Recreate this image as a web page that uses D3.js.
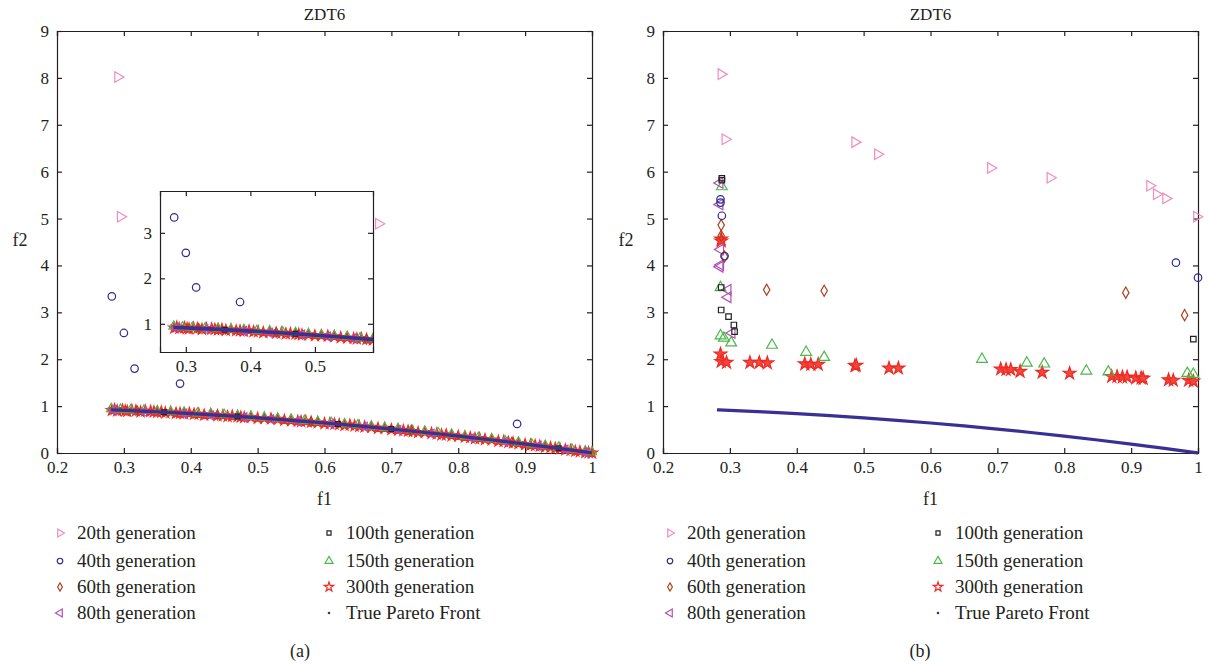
<!DOCTYPE html>
<html>
<head>
<meta charset="utf-8">
<script src="https://cdn.jsdelivr.net/npm/d3@7"></script>
<style>
  body { margin: 0; background: #fff; }
  svg { display: block; }
  text { font-family: "Liberation Serif", "DejaVu Serif", serif; fill: #231f20; }
</style>
</head>
<body>
<svg id="chart"></svg>
<script>
let width = 1208
let height = 665

// ---- data ----
let xTicks = [0.2, 0.3, 0.4, 0.5, 0.6, 0.7, 0.8, 0.9, 1]
let yTicks = [0, 1, 2, 3, 4, 5, 6, 7, 8, 9]
let insetXTicks = [0.3, 0.4, 0.5]
let insetYTicks = [1, 2, 3]

let legendNames = ['20th generation', '40th generation', '60th generation', '80th generation',
                   '100th generation', '150th generation', '300th generation', 'True Pareto Front']

// true pareto front (f1, f2)
let frontF1 = [0.2808, 0.30, 0.35, 0.40, 0.45, 0.50, 0.55, 0.60, 0.65, 0.70, 0.75, 0.80, 0.85, 0.90, 0.95, 1.0]
let frontF2 = [0.921, 0.91, 0.8775, 0.84, 0.7975, 0.75, 0.6975, 0.64, 0.5775, 0.51, 0.4375, 0.36, 0.2775, 0.19, 0.0975, 0]

// panel (a)
let a20 = [[0.291, 8.02], [0.295, 5.04], [0.681, 4.89]]
let a40 = [[0.282, 3.34], [0.300, 2.56], [0.316, 1.80], [0.384, 1.48], [0.888, 0.62]]
let a60 = [[0.32, 0.90], [0.44, 0.81], [0.58, 0.66], [0.73, 0.47], [0.88, 0.23]]
let a80 = [[0.285, 0.91], [0.33, 0.88], [0.39, 0.84], [0.43, 0.80], [0.48, 0.76], [0.52, 0.72], [0.56, 0.68],
           [0.61, 0.62], [0.66, 0.56], [0.71, 0.49], [0.76, 0.41], [0.82, 0.32], [0.87, 0.24], [0.92, 0.15],
           [0.96, 0.07], [0.99, 0.01]]
let a100 = [[0.36, 0.87], [0.47, 0.78], [0.62, 0.62], [0.70, 0.51], [0.95, 0.10]]
let a150 = [[0.281, 0.94], [0.295, 0.93], [0.31, 0.92], [0.33, 0.91], [0.35, 0.90], [0.37, 0.88], [0.39, 0.87],
            [0.41, 0.85], [0.43, 0.84], [0.45, 0.82], [0.47, 0.80], [0.49, 0.78], [0.51, 0.76], [0.53, 0.74],
            [0.55, 0.72], [0.57, 0.69], [0.59, 0.67], [0.61, 0.65], [0.63, 0.62], [0.65, 0.60], [0.67, 0.57],
            [0.69, 0.54], [0.71, 0.52], [0.73, 0.49], [0.75, 0.46], [0.77, 0.43], [0.79, 0.40], [0.81, 0.36],
            [0.83, 0.33], [0.85, 0.30], [0.87, 0.26], [0.89, 0.23], [0.91, 0.19], [0.93, 0.16], [0.95, 0.12],
            [0.97, 0.08], [0.99, 0.04], [1.0, 0.02]]
let a300 = [[0.282, 0.91], [0.286, 0.93], [0.29, 0.90], [0.298, 0.92], [0.302, 0.90], [0.305, 0.89], [0.312, 0.91],
            [0.318, 0.90], [0.325, 0.88], [0.332, 0.90], [0.34, 0.89], [0.345, 0.88], [0.35, 0.87], [0.356, 0.88],
            [0.362, 0.86], [0.37, 0.87], [0.378, 0.85], [0.384, 0.85], [0.39, 0.84], [0.398, 0.85], [0.405, 0.83],
            [0.412, 0.83], [0.42, 0.81], [0.43, 0.82], [0.44, 0.80], [0.448, 0.80], [0.455, 0.78], [0.462, 0.79],
            [0.47, 0.78], [0.475, 0.77], [0.48, 0.76], [0.49, 0.76], [0.50, 0.74], [0.51, 0.74], [0.52, 0.73],
            [0.53, 0.72], [0.54, 0.70], [0.55, 0.69], [0.56, 0.68], [0.565, 0.67], [0.572, 0.68], [0.58, 0.66],
            [0.59, 0.65], [0.60, 0.63], [0.608, 0.63], [0.615, 0.62], [0.622, 0.61], [0.63, 0.59], [0.638, 0.60],
            [0.645, 0.58], [0.652, 0.57], [0.66, 0.56], [0.67, 0.55], [0.68, 0.53], [0.69, 0.53], [0.70, 0.50],
            [0.71, 0.49], [0.718, 0.48], [0.725, 0.47], [0.732, 0.46], [0.74, 0.44], [0.75, 0.44], [0.76, 0.42],
            [0.768, 0.41], [0.775, 0.39], [0.782, 0.39], [0.79, 0.37], [0.80, 0.36], [0.81, 0.34], [0.818, 0.33],
            [0.825, 0.31], [0.832, 0.31], [0.84, 0.29], [0.85, 0.28], [0.86, 0.25], [0.868, 0.25], [0.875, 0.23],
            [0.882, 0.22], [0.89, 0.20], [0.90, 0.18], [0.908, 0.17], [0.915, 0.16], [0.922, 0.15], [0.93, 0.13],
            [0.938, 0.12], [0.945, 0.10], [0.952, 0.09], [0.96, 0.07], [0.968, 0.06], [0.975, 0.04], [0.982, 0.03],
            [0.99, 0.01], [0.995, 0.01], [1.0, 0.0]]

// panel (b)
let b20 = [[0.287, 8.08], [0.293, 6.69], [0.487, 6.63], [0.521, 6.37], [0.690, 6.08], [0.779, 5.87],
           [0.928, 5.70], [0.938, 5.52], [0.952, 5.43], [0.998, 5.04]]
let b40 = [[0.286, 5.41], [0.286, 5.34], [0.288, 5.06], [0.292, 4.20], [0.967, 4.06], [1.0, 3.74]]
let b60 = [[0.287, 4.86], [0.287, 4.63], [0.292, 4.19], [0.355, 3.48], [0.441, 3.46], [0.892, 3.42], [0.980, 2.94]]
let b80 = [[0.285, 5.76], [0.285, 5.30], [0.286, 4.34], [0.285, 3.97], [0.286, 4.01], [0.297, 3.48],
           [0.297, 3.32], [0.303, 2.56]]
let b100 = [[0.288, 5.86], [0.288, 5.82], [0.287, 3.53], [0.287, 3.05], [0.298, 2.91], [0.306, 2.73],
            [0.307, 2.59], [0.993, 2.43]]
let b150 = [[0.288, 5.68], [0.286, 3.53], [0.286, 2.50], [0.291, 2.45], [0.302, 2.35], [0.363, 2.30],
            [0.414, 2.15], [0.441, 2.04], [0.677, 2.00], [0.744, 1.92], [0.770, 1.90], [0.833, 1.75],
            [0.866, 1.73], [0.984, 1.70], [0.993, 1.68]]
let b300 = [[0.287, 4.56], [0.287, 4.52], [0.286, 2.11], [0.287, 1.95], [0.295, 1.93], [0.330, 1.93],
            [0.344, 1.93], [0.356, 1.92], [0.412, 1.90], [0.421, 1.89], [0.432, 1.89], [0.487, 1.86],
            [0.489, 1.87], [0.538, 1.81], [0.552, 1.81], [0.705, 1.79], [0.713, 1.78], [0.720, 1.78],
            [0.734, 1.74], [0.767, 1.72], [0.808, 1.70], [0.871, 1.63], [0.879, 1.63], [0.887, 1.62],
            [0.894, 1.62], [0.907, 1.60], [0.915, 1.60], [0.918, 1.59], [0.956, 1.56], [0.963, 1.55],
            [0.986, 1.55], [0.993, 1.53]]

// ---- styles ----
let markerStyle = [
  {type: d3.symbolTriangle, size: 48, rot: 90, stroke: '#f08cbf', fill: 'none'},
  {type: d3.symbolCircle, size: 44, rot: 0, stroke: '#2e2a94', fill: 'none'},
  {type: d3.symbolDiamond, size: 36, rot: 0, stroke: '#b0401e', fill: 'none'},
  {type: d3.symbolTriangle, size: 48, rot: -90, stroke: '#b24fb4', fill: 'none'},
  {type: d3.symbolSquare, size: 30, rot: 0, stroke: '#222222', fill: 'none'},
  {type: d3.symbolTriangle, size: 50, rot: 0, stroke: '#4cb84a', fill: 'none'},
  {type: d3.symbolStar, size: 50, rot: 0, stroke: '#ee2a24', fill: '#f2473f'},
]
let frontColor = '#3a2f95'
let fontFam = '"Liberation Serif", "DejaVu Serif", serif'

let svg = d3.select('#chart').attr('width', width).attr('height', height)

let symbolPath = (st, size) => d3.symbol().type(st.type).size(size || st.size)()

let drawMarkers = (g, pts, st, xs, ys, size) => {
  g.selectAll(null)
   .data(pts)
   .enter()
   .append('path')
   .attr('d', symbolPath(st, size))
   .attr('transform', d => 'translate(' + xs(d[0]) + ',' + ys(d[1]) + ') rotate(' + st.rot + ')')
   .attr('fill', st.fill)
   .attr('stroke', st.stroke)
   .attr('stroke-width', 1.2)
}

let drawFrame = (g, xs, ys, xt, yt, fmtX, fmtY, fontSize) => {
  let [x0, x1] = xs.range()
  let [y0, y1] = ys.range()
  let axes = g.append('g')
  axes.append('g').attr('transform', 'translate(0,' + y0 + ')')
   .call(d3.axisBottom(xs).tickValues(xt).tickSize(-5).tickPadding(8).tickFormat(fmtX))
  axes.append('g').attr('transform', 'translate(0,' + y1 + ')')
   .call(d3.axisTop(xs).tickValues(xt).tickSize(-5).tickFormat(''))
  axes.append('g').attr('transform', 'translate(' + x0 + ',0)')
   .call(d3.axisLeft(ys).tickValues(yt).tickSize(-5).tickPadding(8).tickFormat(fmtY))
  axes.append('g').attr('transform', 'translate(' + x1 + ',0)')
   .call(d3.axisRight(ys).tickValues(yt).tickSize(-5).tickFormat(''))
  axes.selectAll('g').attr('font-family', fontFam).attr('font-size', fontSize)
  axes.selectAll('.domain').attr('stroke', '#231f20').attr('stroke-width', 1.2)
  axes.selectAll('.tick line').attr('stroke', '#231f20').attr('stroke-width', 1.2)
  axes.selectAll('.tick text').attr('fill', '#231f20')
}

let fmtX = d => d === 1 ? '1' : d3.format('.1f')(d)
let fmtY = d => String(d)

let frontLine = (xs, ys) => d3.line().x(d => xs(d[0])).y(d => ys(d[1])).curve(d3.curveMonotoneX)
let frontPts = frontF1.map((f, i) => [f, frontF2[i]])

let makePanel = (left, right, series, label, withInset, legendX, labelX) => {
  let g = svg.append('g')
  let xs = d3.scaleLinear().domain([0.2, 1]).range([left, right])
  let ys = d3.scaleLinear().domain([0, 9]).range([453, 31])

  drawFrame(g, xs, ys, xTicks, yTicks, fmtX, fmtY, 17)

  // markers (front points first, outliers on top)
  let order = [6, 5, 3, 4, 2, 1, 0]
  order.forEach(k => drawMarkers(g, series[k], markerStyle[k], xs, ys,
                                 withInset && k >= 2 ? markerStyle[k].size * 0.75 : null))

  g.append('path').datum(frontPts).attr('d', frontLine(xs, ys))
   .attr('fill', 'none').attr('stroke', frontColor).attr('stroke-width', 3.2)

  let cx = (left + right) / 2
  g.append('text').attr('x', cx).attr('y', 20).attr('text-anchor', 'middle').style('font-size', '17px').text('ZDT6')
  g.append('text').attr('x', cx).attr('y', 505).attr('text-anchor', 'middle').style('font-size', '18px').text('f1')
  g.append('text').attr('x', left - 37).attr('y', 246).attr('text-anchor', 'middle').style('font-size', '18px').text('f2')

  if (withInset) {
    let ig = g.append('g')
    let ixs = d3.scaleLinear().domain([0.26, 0.59]).range([160, 373])
    let iys = d3.scaleLinear().domain([0.38, 3.92]).range([352, 191])
    ig.append('rect').attr('x', 160).attr('y', 191).attr('width', 213).attr('height', 161).attr('fill', '#fff')
    svg.append('clipPath').attr('id', 'insetClip').append('rect')
       .attr('x', 160).attr('y', 191).attr('width', 213).attr('height', 161)
    let inner = ig.append('g').attr('clip-path', 'url(#insetClip)')
    let inside = d => d[0] >= 0.255 && d[0] <= 0.595 && d[1] >= 0.3 && d[1] <= 3.95
    order.forEach(k => drawMarkers(inner, series[k].filter(inside), markerStyle[k], ixs, iys,
                                   k >= 2 ? markerStyle[k].size * 0.75 : null))
    inner.append('path').datum(frontPts).attr('d', frontLine(ixs, iys))
       .attr('fill', 'none').attr('stroke', frontColor).attr('stroke-width', 3.6)
    drawFrame(ig, ixs, iys, insetXTicks, insetYTicks, d3.format('.1f'), fmtY, 17)
  }

  // legend
  let rows = [533, 561, 587, 613]
  legendNames.forEach((name, i) => {
    let col = Math.floor(i / 4)
    let row = i % 4
    let mx = legendX[col]
    let my = rows[row]
    if (i < 7) {
      let st = markerStyle[i]
      g.append('path').attr('d', symbolPath(st, st.size * 0.55))
       .attr('transform', 'translate(' + mx + ',' + my + ') rotate(' + st.rot + ')')
       .attr('fill', st.fill === 'none' ? 'none' : '#fff').attr('stroke', st.stroke).attr('stroke-width', 1.2)
    } else {
      g.append('circle').attr('cx', mx).attr('cy', my).attr('r', 1.3).attr('fill', frontColor)
    }
    g.append('text').attr('x', mx + 17).attr('y', my + 6).style('font-size', '19px').text(name)
  })

  g.append('text').attr('x', labelX).attr('y', 657).attr('text-anchor', 'middle').style('font-size', '18px').text(label)
}

makePanel(57, 592, [a20, a40, a60, a80, a100, a150, a300], '(a)', true, [60, 329], 300)
makePanel(663, 1198, [b20, b40, b60, b80, b100, b150, b300], '(b)', false, [670, 938], 920)
</script>
</body>
</html>
